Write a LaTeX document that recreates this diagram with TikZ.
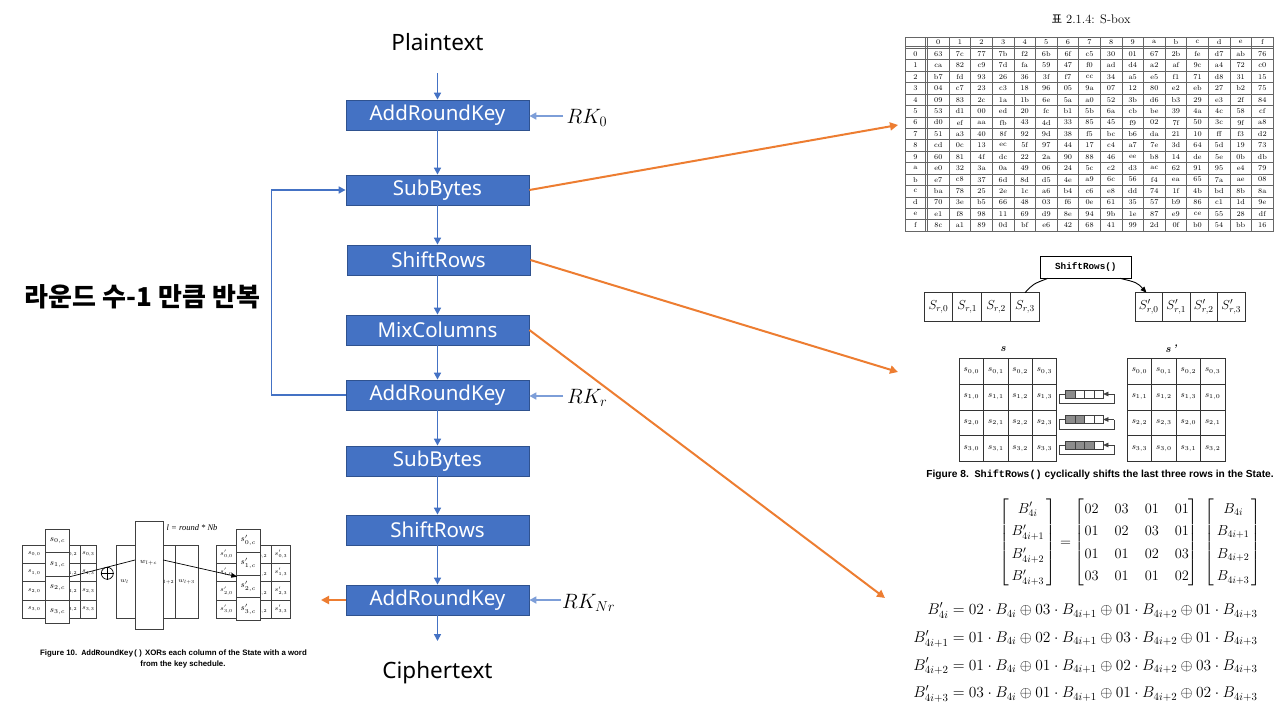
\RequirePackage{fix-cm}
\documentclass[tikz,border=0pt]{standalone}
\usepackage{fontspec}
\usepackage{amsmath}
\usetikzlibrary{arrows.meta}
\newfontfamily\boxfont{Noto Sans}
\newfontfamily\krfont{Noto Sans CJK KR}
\newfontfamily\capfont{Liberation Sans}
\newfontfamily\courfont{Liberation Mono}
\newfontfamily\timesfont{Liberation Serif}
\definecolor{boxblue}{RGB}{68,114,196}
\definecolor{boxborder}{RGB}{47,82,143}
\definecolor{rkblue}{RGB}{125,158,216}
\definecolor{orng}{RGB}{237,125,49}
\def\sboxdata{{63,7c,77,7b,f2,6b,6f,c5,30,01,67,2b,fe,d7,ab,76},{ca,82,c9,7d,fa,59,47,f0,ad,d4,a2,af,9c,a4,72,c0},{b7,fd,93,26,36,3f,f7,cc,34,a5,e5,f1,71,d8,31,15},{04,c7,23,c3,18,96,05,9a,07,12,80,e2,eb,27,b2,75},{09,83,2c,1a,1b,6e,5a,a0,52,3b,d6,b3,29,e3,2f,84},{53,d1,00,ed,20,fc,b1,5b,6a,cb,be,39,4a,4c,58,cf},{d0,ef,aa,fb,43,4d,33,85,45,f9,02,7f,50,3c,9f,a8},{51,a3,40,8f,92,9d,38,f5,bc,b6,da,21,10,ff,f3,d2},{cd,0c,13,ec,5f,97,44,17,c4,a7,7e,3d,64,5d,19,73},{60,81,4f,dc,22,2a,90,88,46,ee,b8,14,de,5e,0b,db},{e0,32,3a,0a,49,06,24,5c,c2,d3,ac,62,91,95,e4,79},{e7,c8,37,6d,8d,d5,4e,a9,6c,56,f4,ea,65,7a,ae,08},{ba,78,25,2e,1c,a6,b4,c6,e8,dd,74,1f,4b,bd,8b,8a},{70,3e,b5,66,48,03,f6,0e,61,35,57,b9,86,c1,1d,9e},{e1,f8,98,11,69,d9,8e,94,9b,1e,87,e9,ce,55,28,df},{8c,a1,89,0d,bf,e6,42,68,41,99,2d,0f,b0,54,bb,16}}
\tikzset{
 stepbox/.style={draw=boxborder,line width=0.8pt,fill=boxblue,minimum width=183pt,minimum height=30pt,inner sep=0pt,text=white,font={\boxfont\fontsize{20.5}{24}\selectfont}},
 flow/.style={draw=boxblue,line width=1.6pt,-{Triangle[length=7pt,width=7pt]}},
 rkflow/.style={draw=rkblue,line width=1.6pt,-{Triangle[length=7pt,width=7pt]}},
 orangeflow/.style={draw=orng,line width=2pt,-{Triangle[length=8pt,width=8pt]}},
 plainlabel/.style={font={\boxfont\fontsize{22.5}{26}\selectfont},inner sep=0pt},
 rklabel/.style={font={\fontsize{20.74}{25}\selectfont},anchor=base west,inner sep=0pt},
 sbline/.style={draw=black!60,line width=0.5pt},
 sbcell/.style={font={\fontsize{7.3}{8}\selectfont},inner sep=0pt},
 gline/.style={draw=black!80,line width=1pt},
 cellf/.style={font={\fontsize{8.5}{9}\selectfont},inner sep=0pt},
 tinycell/.style={font={\fontsize{6.5}{7}\selectfont},inner sep=0pt},
 thinline/.style={draw=black!75,line width=0.6pt},
}
\begin{document}
\begin{tikzpicture}[x=1pt,y=-1pt]
\useasboundingbox (0,0) rectangle (1280,720);
\fill[white] (0,0) rectangle (1280,720);

% ---------------- main flow ----------------
\node[plainlabel] (pt) at (437.5,42) {Plaintext};
\node[stepbox] (a0) at (437.5,115) {AddRoundKey};
\node[stepbox] (s1) at (437.5,190) {SubBytes};
\node[stepbox] (r1) at (438.5,260) {ShiftRows};
\node[stepbox] (m1) at (437.5,330) {MixColumns};
\node[stepbox] (a1) at (437.5,395) {AddRoundKey};
\node[stepbox] (s2) at (437.5,461) {SubBytes};
\node[stepbox] (r2) at (437.5,530) {ShiftRows};
\node[stepbox] (a2) at (437.5,600) {AddRoundKey};
\node[plainlabel] (ct) at (437.5,673) {Ciphertext};
\coordinate (ptend) at (437.5,73);
\coordinate (ctend) at (437.5,641);

\draw[flow] (ptend) -- (a0.north);
\draw[flow] (a0.south) -- (s1.north);
\draw[flow] (s1.south) -- (s1.south |- r1.north);
\draw[flow] (r1.south -| m1.north) -- (m1.north);
\draw[flow] (m1.south) -- (a1.north);
\draw[flow] (a1.south) -- (s2.north);
\draw[flow] (s2.south) -- (r2.north);
\draw[flow] (r2.south) -- (a2.north);
\draw[flow] (a2.south) -- (ctend);
\draw[flow] (a1.west) -- ++(-74,0) |- (s1.west);

\node[rklabel] (rk0) at (566.5,123) {$RK_0$};
\node[rklabel] (rkr) at (567,403) {$RK_r$};
\node[rklabel] (rknr) at (562,608) {$RK_{Nr}$};
\coordinate (rk0s) at (563,116);
\coordinate (rkrs) at (563,396);
\coordinate (rknrs) at (561,600);
\draw[rkflow] (rk0s) -- (a0.east |- rk0s);
\draw[rkflow] (rkrs) -- (a1.east |- rkrs);
\draw[rkflow] (rknrs) -- (a2.east |- rknrs);

\node[font={\krfont\bfseries\fontsize{26}{30}\selectfont},inner sep=0pt] (rep) at (142.5,297) {라운드 수-1 만큼 반복};

\coordinate (sbtip) at (898,125);
\coordinate (srtip) at (898,372);
\coordinate (mctip) at (885,598);
\coordinate (aktip) at (321,600);
\draw[orangeflow] (s1.east) -- (sbtip);
\draw[orangeflow] (r1.east) -- (srtip);
\draw[orangeflow] (m1.east) -- (mctip);
\draw[orangeflow] (a2.west) -- (aktip);

% ---------------- S-box table ----------------
\node[font={\fontsize{12.5}{14}\selectfont},inner sep=0pt] (sbtitle) at (1091,19.5) {{\krfont\fontsize{11.5}{14}\selectfont 표} 2.1.4: S-box};
\draw[sbline] (905,37) rectangle (1273,231);
\draw[sbline] (905,46.4) -- (1273,46.4);
\draw[sbline] (905,48.3) -- (1273,48.3);
\draw[sbline] (925.5,37) -- (925.5,231);
\draw[sbline] (927.5,37) -- (927.5,231);
\foreach \j in {1,...,15} { \draw[sbline] ({927.5+\j*21.6},37) -- ({927.5+\j*21.6},231); }
\foreach \i in {1,...,15} { \draw[sbline] (905,{48.3+\i*11.42}) -- (1273,{48.3+\i*11.42}); }
\foreach \h [count=\j from 0] in {0,1,2,3,4,5,6,7,8,9,a,b,c,d,e,f} {
  \node[sbcell] (sbh-\j) at ({927.5+(\j+0.5)*21.6},41.9) {\h};
  \node[sbcell] (sbr-\j) at (915.5,{48.3+(\j+0.5)*11.42}) {\h};
}
\foreach \rowvals [count=\i from 0] in \sboxdata {
  \foreach \v [count=\j from 0] in \rowvals {
    \node[sbcell] (sb-\i-\j) at ({927.5+(\j+0.5)*21.6},{48.3+(\i+0.5)*11.42}) {\v};
  }
}

% ---------------- ShiftRows figure ----------------
\node[draw=black,line width=0.9pt,minimum width=91.7pt,minimum height=22.3pt,inner sep=0pt,font={\courfont\bfseries\fontsize{9.3}{11}\selectfont}] (srbox) at (1085.8,267.2) {ShiftRows()};
\foreach \k in {0,...,3} {
  \draw[gline] ({924+\k*28.83},292.7) rectangle ({924+(\k+1)*28.83},321.7);
  \node[font={\fontsize{13}{15}\selectfont},inner sep=0pt] (srl-\k) at ({924+(\k+0.5)*28.83},307.2) {$S_{r,\k}$};
  \draw[gline] ({1135+\k*27.5},292.7) rectangle ({1135+(\k+1)*27.5},321.7);
  \node[font={\fontsize{13}{15}\selectfont},inner sep=0pt] (srr-\k) at ({1135+(\k+0.5)*27.5},307.2) {$S'_{r,\k}$};
}
\coordinate (lc1) at (1025,292.7);
\coordinate (lc2) at (1048,278.3);
\coordinate (rc1) at (1120,278.3);
\coordinate (rc2) at (1146.5,292.7);
\draw[line width=0.9pt] (lc1) .. controls (1033,284) .. (lc2);
\draw[line width=0.9pt,-{Triangle[length=6pt,width=5pt]}] (rc1) .. controls (1137,282.5) .. (rc2);
\node[font={\bfseries\itshape\fontsize{11}{13}\selectfont},inner sep=0pt] (slab) at (1003,349) {s};
\node[font={\bfseries\itshape\fontsize{11}{13}\selectfont},inner sep=0pt] (splab) at (1171,349) {s\,'};
\draw[gline] (959.3,358.3) rectangle (1056.7,461.7);
\draw[gline] (1127.3,358.3) rectangle (1225,461.7);
\foreach \k in {1,2,3} {
  \draw[gline] ({959.3+\k*24.35},358.3) -- ({959.3+\k*24.35},461.7);
  \draw[gline] ({1127.3+\k*24.42},358.3) -- ({1127.3+\k*24.42},461.7);
  \draw[gline] (959.3,{358.3+\k*25.85}) -- (1056.7,{358.3+\k*25.85});
  \draw[gline] (1127.3,{358.3+\k*25.85}) -- (1225,{358.3+\k*25.85});
}
\foreach \i in {0,...,3} { \foreach \j in {0,...,3} {
  \pgfmathtruncatemacro\kk{mod(\i+\j,4)}
  \node[cellf] (sl-\i-\j) at ({959.3+(\j+0.5)*24.35},{358.3+(\i+0.5)*25.85}) {$s_{\i,\j}$};
  \node[cellf] (sr-\i-\j) at ({1127.3+(\j+0.5)*24.42},{358.3+(\i+0.5)*25.85}) {$s_{\i,\kk}$};
}}
\foreach \k/\yc in {1/394,2/419.5,3/445} {
  \foreach \m in {0,...,3} {
    \ifnum\m<\k\relax\def\fc{black!45}\else\def\fc{white}\fi
    \draw[thinline,fill=\fc] ({1065.7+\m*9.4},{\yc-4.15}) rectangle ({1065.7+(\m+1)*9.4},{\yc+4.15});
  }
  \draw[thinline] (1065.7,\yc) -- (1059.3,\yc) -- (1059.3,{\yc+9.3}) -- (1114,{\yc+9.3}) -- (1114,\yc);
  \draw[thinline,-{Triangle[length=5pt,width=4.5pt]}] (1114,\yc) -- (1103.3,\yc);
}
\node[font={\capfont\bfseries\fontsize{10.2}{12}\selectfont},inner sep=0pt] (cap8) at (1100,475) {Figure 8.\ \ {\courfont\bfseries ShiftRows()} cyclically shifts the last three rows in the State.};

% ---------------- MixColumns ----------------
\node[inner sep=0pt] (mixmat) at (1130.5,542.5) {\fontsize{14.4}{17}\selectfont\renewcommand{\arraystretch}{1.33}$\begin{bmatrix}\,B'_{4i}\,\\\,B'_{4i+1}\,\\\,B'_{4i+2}\,\\\,B'_{4i+3}\,\end{bmatrix}=\begingroup\setlength{\arraycolsep}{8pt}\begin{bmatrix}02&03&01&01\\01&02&03&01\\01&01&02&03\\03&01&01&02\end{bmatrix}\endgroup\;\begin{bmatrix}\,B_{4i}\,\\\,B_{4i+1}\,\\\,B_{4i+2}\,\\\,B_{4i+3}\,\end{bmatrix}$};
\node[inner sep=0pt] (mixeq) at (1085.5,652.5) {\fontsize{15.5}{19}\selectfont\setlength{\jot}{8.7pt}$\begin{aligned}
B'_{4i} &= 02\cdot B_{4i}\oplus 03\cdot B_{4i+1}\oplus 01\cdot B_{4i+2}\oplus 01\cdot B_{4i+3}\\
B'_{4i+1} &= 01\cdot B_{4i}\oplus 02\cdot B_{4i+1}\oplus 03\cdot B_{4i+2}\oplus 01\cdot B_{4i+3}\\
B'_{4i+2} &= 01\cdot B_{4i}\oplus 01\cdot B_{4i+1}\oplus 02\cdot B_{4i+2}\oplus 03\cdot B_{4i+3}\\
B'_{4i+3} &= 03\cdot B_{4i}\oplus 01\cdot B_{4i+1}\oplus 01\cdot B_{4i+2}\oplus 02\cdot B_{4i+3}
\end{aligned}$};

% ---------------- AddRoundKey figure ----------------
% left state
\draw[thinline] (22.7,545) rectangle (96.7,618.3);
\foreach \yy in {563.3,581.7,600} { \draw[thinline] (22.7,\yy) -- (96.7,\yy); }
\foreach \xx in {45.7,62,80} { \draw[thinline] (\xx,545) -- (\xx,618.3); }
\foreach \i in {0,...,3} {
  \node[tinycell] (ls0-\i) at (34.2,{554.2+\i*18.33}) {$s_{\i,0}$};
  \node[tinycell] (ls2-\i) at (71,{554.2+\i*18.33}) {$s_{\i,2}$};
  \node[tinycell] (ls3-\i) at (88.3,{554.2+\i*18.33}) {$s_{\i,3}$};
}
\foreach \i in {0,...,3} {
  \draw[thinline,fill=white] (45.7,{529+\i*23.6}) rectangle (69.3,{529+(\i+1)*23.6});
  \node[font={\fontsize{8.5}{9}\selectfont},inner sep=0pt] (lc-\i) at (57.5,{540.8+\i*23.6}) {$s_{\i,c}$};
}
% xor
\node[circle,draw=black,line width=0.7pt,minimum size=12pt,inner sep=0pt] (xorc) at (107.3,573.3) {};
\draw[line width=0.7pt] (xorc.north) -- (xorc.south) (xorc.west) -- (xorc.east);
% key schedule
\draw[thinline] (116.7,545) rectangle (198.3,618.3);
\draw[thinline] (175,545) -- (175,618.3);
\node[tinycell] (wl) at (124.5,581.7) {$w_l$};
\node[tinycell] (wl2) at (166,581.7) {$w_{l+2}$};
\node[tinycell] (wl3) at (186.5,581.7) {$w_{l+3}$};
\node[draw=black!75,line width=0.6pt,fill=white,minimum width=28.3pt,minimum height=107.6pt,inner sep=0pt] (wlc) at (149.15,575.5) {};
\node[font={\fontsize{7}{8}\selectfont},inner sep=0pt] (wlcl) at (148.5,563.3) {$w_{l+c}$};
\node[font={\timesfont\itshape\fontsize{8.5}{9}\selectfont},inner sep=0pt,anchor=west] (lrn) at (166.5,527.3) {l = round * Nb};
% right state
\draw[thinline] (216.7,545) rectangle (290,618.3);
\foreach \yy in {563.3,581.7,600} { \draw[thinline] (216.7,\yy) -- (290,\yy); }
\foreach \xx in {236.7,252,271.7} { \draw[thinline] (\xx,545) -- (\xx,618.3); }
\foreach \i in {0,...,3} {
  \node[tinycell] (rs0-\i) at (226.5,{554.2+\i*18.33}) {$s'_{\i,0}$};
  \node[tinycell] (rs2-\i) at (261,{554.2+\i*18.33}) {$s'_{\i,2}$};
  \node[tinycell] (rs3-\i) at (281,{554.2+\i*18.33}) {$s'_{\i,3}$};
}
\foreach \i in {0,...,3} {
  \draw[thinline,fill=white] (236.7,{529+\i*22.93}) rectangle (260,{529+(\i+1)*22.93});
  \node[font={\fontsize{8.5}{9}\selectfont},inner sep=0pt] (rc-\i) at (248.3,{540.5+\i*22.93}) {$s'_{\i,c}$};
}
\coordinate (akl1) at (70,576.7);
\coordinate (akl2) at (135,560);
\coordinate (akr1) at (163.3,560);
\coordinate (akr2) at (237.3,576.7);
\draw[line width=0.7pt] (akl1) -- (akl2);
\draw[line width=0.7pt,-{Triangle[length=6pt,width=4.5pt]}] (akr1) -- (akr2);
\node[font={\capfont\bfseries\fontsize{7.85}{9}\selectfont},inner sep=0pt] (cap10a) at (173.5,653.5) {Figure 10.\ \ {\courfont\bfseries AddRoundKey()} XORs each column of the State with a word};
\node[font={\capfont\bfseries\fontsize{7.85}{9}\selectfont},inner sep=0pt] (cap10b) at (183,664.5) {from the key schedule.};
\end{tikzpicture}
\end{document}
